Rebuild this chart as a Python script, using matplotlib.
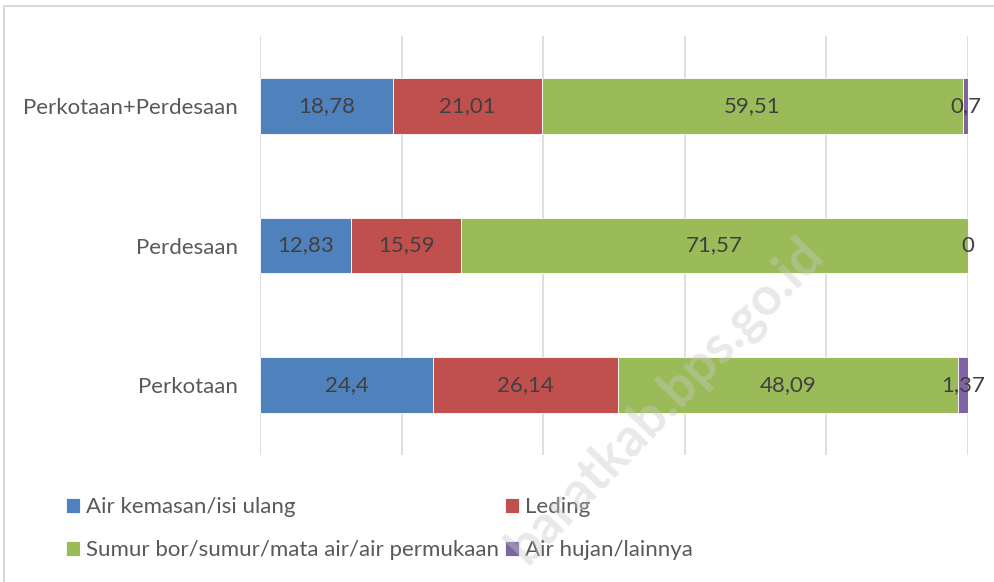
import matplotlib.pyplot as plt
import numpy as np
from matplotlib.patches import Rectangle

# Data ------------------------------------------------------------------------

categories = ['Perkotaan', 'Perdesaan', 'Perkotaan+Perdesaan']
air_kemasan = [24.4, 12.83, 18.78]
leding = [26.14, 15.59, 21.01]
sumur = [48.09, 71.57, 59.51]
air_hujan = [1.37, 0.0, 0.7]

series_names = ['Air kemasan/isi ulang', 'Leding',
                'Sumur bor/sumur/mata air/air permukaan', 'Air hujan/lainnya']
series_values = [air_kemasan, leding, sumur, air_hujan]
colors = ['#4F81BD', '#C0504D', '#9BBB59', '#8064A2']

plt.rcParams['font.family'] = ['Lato', 'DejaVu Sans']

# Figure ----------------------------------------------------------------------

fig = plt.figure(figsize=(9.95, 5.82), dpi=100)
ax = fig.add_axes([260 / 995, 1 - 455 / 582, (968 - 260) / 995, (455 - 36) / 582])

y = np.arange(len(categories))
left = np.zeros(len(categories))
handles = []
for name, vals, col in zip(series_names, series_values, colors):
    bars = ax.barh(y, vals, left=left, height=0.4, color=col,
                   edgecolor='white', linewidth=0.6, label=name, zorder=2)
    labels = [('%g' % v).replace('.', ',') for v in vals]
    ax.bar_label(bars, labels=labels, label_type='center',
                 fontsize=16, color='#404040')
    handles.append(bars)
    left += np.array(vals)

ax.set_xlim(0, 100)
ax.set_ylim(-0.5, 2.5)
ax.set_xticks(np.arange(0, 101, 20))
ax.set_xticklabels([])
ax.tick_params(axis='x', length=0)
ax.tick_params(axis='y', length=0, pad=16)
ax.set_yticks(y)
ax.set_yticklabels(categories, fontsize=16, color='#595959')
ax.grid(axis='x', color='#d9d9d9', linewidth=1.2, zorder=0)
ax.set_axisbelow(True)
for s in ax.spines.values():
    s.set_visible(False)

# legend: row 1 -> kemasan, leding ; row 2 -> sumur, hujan
order = [0, 2, 1, 3]
leg = fig.legend([handles[i] for i in order], [series_names[i] for i in order],
                 ncol=2, loc='upper left', bbox_to_anchor=(66 / 995, 1 - 497 / 582),
                 frameon=False, fontsize=16, handlelength=0.65, handleheight=0.65,
                 handletextpad=0.25, columnspacing=0.25, labelspacing=1.05,
                 labelcolor='#595959', borderaxespad=0, borderpad=0)

# chart border
fig.patches.append(Rectangle((4 / 995, -0.05), 1.1, 1 - 6 / 582 + 0.05,
                             transform=fig.transFigure, fill=False,
                             edgecolor='#d9d9d9', linewidth=1.5))

# watermark
fig.text(815 / 995, 1 - 245 / 582, 'baratkab.bps.go.id', rotation=46,
         ha='right', va='center', rotation_mode='anchor', fontsize=38,
         fontweight='bold', color='#c8c8c8', alpha=0.4, zorder=10)

fig.savefig('out.png', dpi=100)
